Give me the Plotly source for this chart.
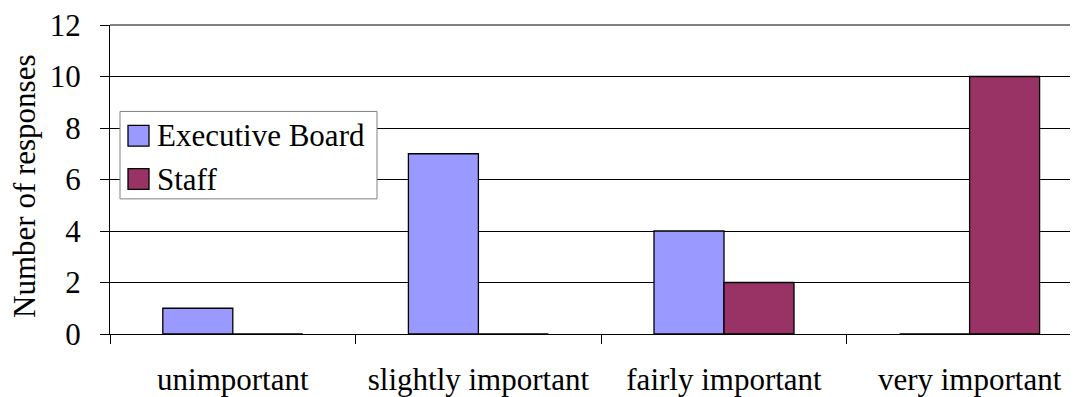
import plotly.graph_objects as go

categories = ["unimportant", "slightly important", "fairly important", "very important"]
series_names = ["Executive Board", "Staff"]
exec_board = [1, 7, 4, 0]
staff = [0, 0, 2, 10]
y_ticks = [0, 2, 4, 6, 8, 10, 12]
y_title = "Number of responses"
colors = ["#9999FF", "#993366"]

FONT = "Liberation Serif, Times New Roman, serif"

fig = go.Figure()
for name, vals, col in zip(series_names, [exec_board, staff], colors):
    fig.add_trace(go.Bar(
        x=categories, y=vals, name=name,
        marker=dict(color=col, line=dict(color="black", width=1.3)),
        showlegend=False,
    ))

OFF = 8  # default page body margin
W, H = 1078 - OFF, 397 - OFF
ml, mt = 110 - OFF, 24 - OFF
mr = 0
mb = H - (335 - OFF)
cat_px = 245.6
plot_w = W - ml - mr
plot_h = H - mt - mb
span = plot_w / cat_px

fig.update_layout(
    width=W, height=H,
    margin=dict(l=ml, r=mr, t=mt, b=mb),
    paper_bgcolor="white", plot_bgcolor="white",
    barmode="group", bargap=0.43, bargroupgap=0,
    font=dict(family=FONT, size=31, color="black"),
    xaxis=dict(
        type="category", range=[-0.5, -0.5 + span],
        showline=True, linecolor="black", linewidth=1,
        ticks="outside", tickson="boundaries", ticklen=9, tickcolor="black",
        tickfont=dict(family=FONT, size=31, color="black"),
        ticklabelstandoff=18, ticklabeloverflow="allow",
        showgrid=False, zeroline=False,
    ),
    yaxis=dict(
        range=[0, 12], tickvals=y_ticks,
        showline=True, linecolor="black", linewidth=1,
        ticks="outside", ticklen=9, tickcolor="black",
        tickfont=dict(family=FONT, size=31, color="black"),
        ticklabelstandoff=13, ticklabeloverflow="allow",
        showgrid=True, gridcolor="black", gridwidth=1,
        zeroline=False,
    ),
)

# top border of plot area (gray)
fig.add_shape(type="line", xref="paper", yref="paper", x0=0, x1=1, y0=1, y1=1,
              line=dict(color="#808080", width=2), layer="above")

# page pixel coordinates -> paper coords
def px(x):
    return (x - OFF - ml) / plot_w
def py(y):
    return 1 - (y - OFF - mt) / plot_h

# y-axis title
fig.add_annotation(xref="paper", yref="paper", x=px(25), y=py(187),
                   xanchor="center", yanchor="middle", showarrow=False, textangle=-90,
                   borderpad=0,
                   text=y_title, font=dict(family=FONT, size=31, color="black"))

# legend
fig.add_shape(type="rect", xref="paper", yref="paper",
              x0=px(120), x1=px(377), y0=py(111), y1=py(199),
              line=dict(color="#808080", width=1), fillcolor="white", layer="above")
rows_y = [135.5, 179]
for name, col, cy in zip(series_names, colors, rows_y):
    fig.add_shape(type="rect", xref="paper", yref="paper",
                  x0=px(128), x1=px(149), y0=py(cy - 10.5), y1=py(cy + 10.5),
                  line=dict(color="black", width=1.3), fillcolor=col, layer="above")
    fig.add_annotation(xref="paper", yref="paper", x=px(155), y=py(cy),
                       xanchor="left", yanchor="middle", showarrow=False,
                       text=name, font=dict(family=FONT, size=31, color="black"))

fig.write_html("out.html")
